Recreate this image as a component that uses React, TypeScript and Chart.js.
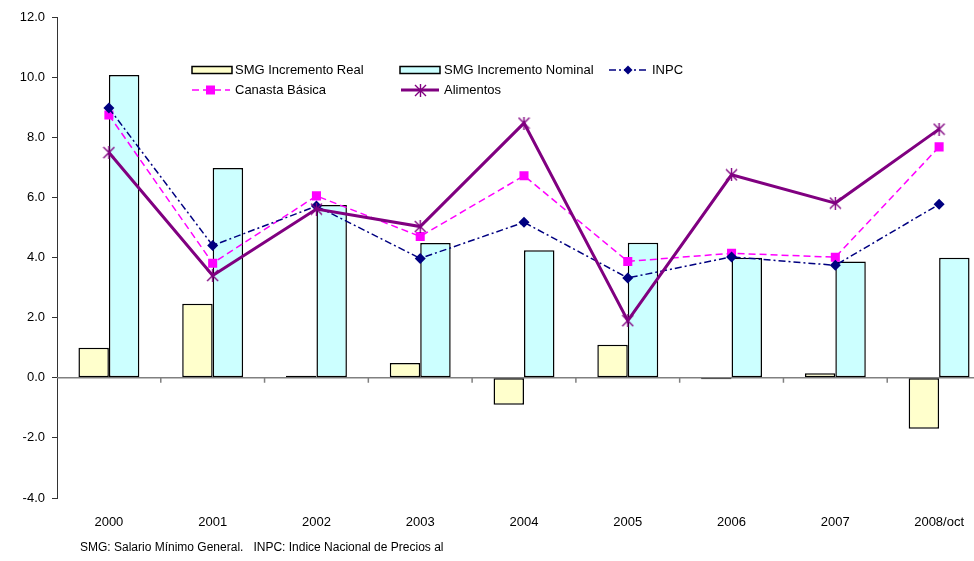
import React, { useEffect, useRef } from "react";
import { Chart, registerables } from "chart.js";

Chart.register(...registerables);

const categories = ["2000", "2001", "2002", "2003", "2004", "2005", "2006", "2007", "2008/oct"];
const smgReal = [1.0, 2.46, 0.07, 0.49, -0.9, 1.1, -0.05, 0.15, -1.7];
const smgNominal = [10.07, 6.98, 5.75, 4.48, 4.24, 4.49, 3.99, 3.87, 3.99];
const inpc = [8.97, 4.4, 5.71, 3.97, 5.17, 3.32, 4.02, 3.74, 5.77];
const canasta = [8.74, 3.81, 6.05, 4.7, 6.72, 3.87, 4.14, 4.01, 7.68];
const alimentos = [7.49, 3.4, 5.61, 5.03, 8.47, 1.9, 6.75, 5.81, 8.27];
const yTicks = [-4, -2, 0, 2, 4, 6, 8, 10, 12];
const footnote = "SMG: Salario Mínimo General.   INPC: Indice Nacional de Precios al";

const FONT = "'Liberation Sans', Arial, sans-serif";
const INPC_DASH = [7, 3, 2, 3];
const CANASTA_DASH = [7, 4];

function makeStar(): HTMLCanvasElement {
  const c = document.createElement("canvas");
  c.width = 13;
  c.height = 13;
  const g = c.getContext("2d")!;
  g.strokeStyle = "#800080";
  g.lineWidth = 1.4;
  g.beginPath();
  g.moveTo(1, 1);
  g.lineTo(12, 12);
  g.moveTo(12, 1);
  g.lineTo(1, 12);
  g.moveTo(6.5, 0);
  g.lineTo(6.5, 13);
  g.stroke();
  return c;
}

export default function App() {
  const ref = useRef<HTMLCanvasElement | null>(null);

  useEffect(() => {
    const canvas = ref.current!;
    const star = makeStar();

    const overlay = {
      id: "overlay",
      beforeDatasetsDraw(chart: any) {
        const ctx = chart.ctx;
        const area = chart.chartArea;
        const y0 = chart.scales.y.getPixelForValue(0);
        const xs = chart.scales.x;
        ctx.save();
        ctx.strokeStyle = "#808080";
        ctx.lineWidth = 1.5;
        ctx.beginPath();
        ctx.moveTo(area.left, y0);
        ctx.lineTo(area.right, y0);
        const n = categories.length;
        for (let k = 1; k < n; k++) {
          const xb = (xs.getPixelForValue(k - 1) + xs.getPixelForValue(k)) / 2;
          ctx.moveTo(xb, y0);
          ctx.lineTo(xb, y0 + 5);
        }
        ctx.stroke();
        ctx.restore();
      },
      afterDraw(chart: any) {
        const ctx = chart.ctx;
        ctx.save();
        ctx.font = `13px ${FONT}`;
        ctx.fillStyle = "#000";
        ctx.textBaseline = "middle";
        ctx.textAlign = "left";

        const rectSw = (x: number, y: number, fill: string) => {
          ctx.fillStyle = fill;
          ctx.fillRect(x, y - 3.5, 40, 7);
          ctx.strokeStyle = "#000";
          ctx.lineWidth = 1.5;
          ctx.setLineDash([]);
          ctx.strokeRect(x, y - 3.5, 40, 7);
        };
        const lineSw = (x: number, y: number, color: string, dash: number[], w: number) => {
          ctx.strokeStyle = color;
          ctx.lineWidth = w;
          ctx.setLineDash(dash);
          ctx.beginPath();
          ctx.moveTo(x, y);
          ctx.lineTo(x + 38, y);
          ctx.stroke();
          ctx.setLineDash([]);
        };
        const text = (s: string, x: number, y: number) => {
          ctx.fillStyle = "#000";
          ctx.fillText(s, x, y);
        };

        // Row 1
        rectSw(192, 70, "#FFFFCC");
        text("SMG Incremento Real", 235, 70);
        rectSw(400, 70, "#CCFFFF");
        text("SMG Incremento Nominal", 444, 70);
        lineSw(609, 70, "#000080", INPC_DASH, 1.5);
        ctx.fillStyle = "#000080";
        ctx.beginPath();
        ctx.moveTo(628, 65.5);
        ctx.lineTo(632.5, 70);
        ctx.lineTo(628, 74.5);
        ctx.lineTo(623.5, 70);
        ctx.closePath();
        ctx.fill();
        text("INPC", 652, 70);

        // Row 2
        lineSw(192, 90, "#FF00FF", CANASTA_DASH, 1.5);
        ctx.fillStyle = "#FF00FF";
        ctx.fillRect(206, 85.5, 9, 9);
        text("Canasta Básica", 235, 90);
        lineSw(401, 90, "#800080", [], 3);
        ctx.drawImage(star, 414, 84);
        text("Alimentos", 444, 90);

        // Footnote
        ctx.font = `12px ${FONT}`;
        text(footnote, 80, 548);
        ctx.restore();
      },
    };

    const chart = new Chart(canvas, {
      type: "bar",
      data: {
        labels: categories,
        datasets: [
          {
            type: "bar",
            label: "SMG Incremento Real",
            data: smgReal,
            backgroundColor: "#FFFFCC",
            borderColor: "#000",
            borderWidth: 1.5,
            borderSkipped: false,
            categoryPercentage: 0.587,
            barPercentage: 1,
            order: 2,
          },
          {
            type: "bar",
            label: "SMG Incremento Nominal",
            data: smgNominal,
            backgroundColor: "#CCFFFF",
            borderColor: "#000",
            borderWidth: 1.5,
            borderSkipped: false,
            categoryPercentage: 0.587,
            barPercentage: 1,
            order: 2,
          },
          {
            type: "line",
            label: "INPC",
            data: inpc,
            borderColor: "#000080",
            backgroundColor: "#000080",
            borderWidth: 1.5,
            borderDash: INPC_DASH,
            pointStyle: "rectRot",
            pointRadius: 5.5,
            pointBorderWidth: 0,
            tension: 0,
            fill: false,
            order: 1,
          },
          {
            type: "line",
            label: "Canasta Básica",
            data: canasta,
            borderColor: "#FF00FF",
            backgroundColor: "#FF00FF",
            borderWidth: 1.5,
            borderDash: CANASTA_DASH,
            pointStyle: "rect",
            pointRadius: 6.4,
            pointBorderWidth: 0,
            tension: 0,
            fill: false,
            order: 1,
          },
          {
            type: "line",
            label: "Alimentos",
            data: alimentos,
            borderColor: "#800080",
            backgroundColor: "#800080",
            borderWidth: 3,
            pointStyle: star as any,
            pointRadius: 6,
            tension: 0,
            fill: false,
            order: 0,
          },
        ],
      },
      options: {
        responsive: false,
        animation: false,
        maintainAspectRatio: false,
        layout: { padding: { left: 0, right: 8, top: 17, bottom: 0 } },
        plugins: {
          legend: { display: false },
          tooltip: { enabled: false },
          title: { display: false },
        },
        scales: {
          x: {
            offset: true,
            grid: { display: false, drawTicks: false },
            border: { display: false },
            ticks: {
              color: "#000",
              font: { family: FONT, size: 13 },
              padding: 17,
              maxRotation: 0,
              autoSkip: false,
            },
            afterFit: (s: any) => {
              s.height = 63;
            },
          },
          y: {
            min: -4,
            max: 12,
            afterBuildTicks: (s: any) => {
              s.ticks = yTicks.map((v) => ({ value: v }));
            },
            grid: {
              display: true,
              drawOnChartArea: false,
              drawTicks: true,
              tickLength: 5,
              color: "#333333",
            },
            border: { display: true, color: "#333333", width: 1 },
            ticks: {
              color: "#000",
              font: { family: FONT, size: 13 },
              padding: 7,
              callback: (v: any) => Number(v).toFixed(1),
            },
            afterFit: (s: any) => {
              s.width = 57;
            },
          },
        },
      },
      plugins: [overlay],
    } as any);

    return () => chart.destroy();
  }, []);

  return (
    <div
      style={{
        position: "absolute",
        left: 0,
        top: 0,
        width: 974,
        height: 561,
        overflow: "hidden",
        background: "#fff",
      }}
    >
      <canvas ref={ref} width={1000} height={561} style={{ width: 1000, height: 561, display: "block" }} />
    </div>
  );
}
